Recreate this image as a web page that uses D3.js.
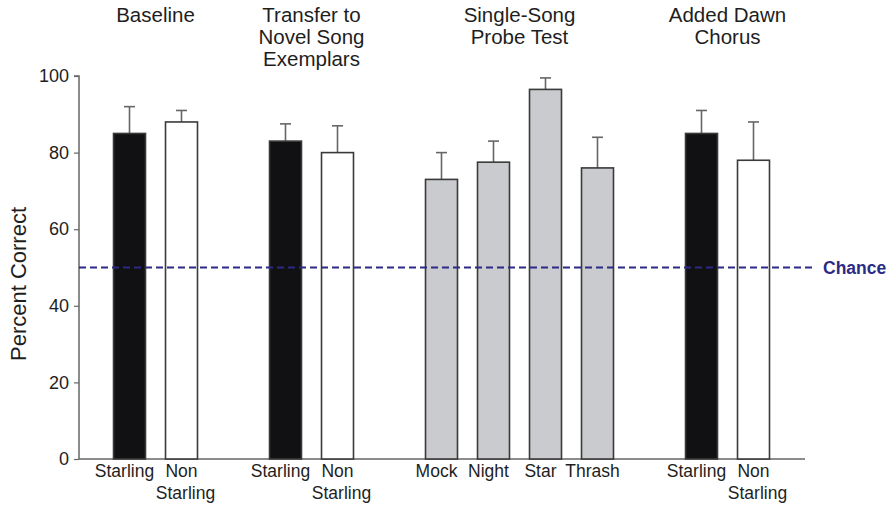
<!DOCTYPE html>
<html>
<head>
<meta charset="utf-8">
<script src="https://cdn.jsdelivr.net/npm/d3@7"></script>
<style>
  html, body { margin: 0; padding: 0; background: #fff; }
  svg { display: block; font-family: "Liberation Sans", Arial, sans-serif; }
</style>
</head>
<body>
<svg id="chart" width="893" height="507"></svg>
<script>
// Experimental conditions (panels) and their titles
const groups = ["baseline", "transfer", "probe", "dawn"];
const groupTitles = [
  ["Baseline"],
  ["Transfer to", "Novel Song", "Exemplars"],
  ["Single-Song", "Probe Test"],
  ["Added Dawn", "Chorus"]
];

// One entry per bar
const barGroup  = ["baseline", "baseline", "transfer", "transfer", "probe", "probe", "probe", "probe", "dawn", "dawn"];
const barLabels = [
  ["Starling"], ["Non", "Starling"],
  ["Starling"], ["Non", "Starling"],
  ["Mock"], ["Night"], ["Star"], ["Thrash"],
  ["Starling"], ["Non", "Starling"]
];
const barKind   = ["starling", "non", "starling", "non", "probe", "probe", "probe", "probe", "starling", "non"];
const meanPct   = [85, 88, 83, 80, 73, 77.5, 96.5, 76, 85, 78];
const errTopPct = [92, 91, 87.5, 87, 80, 83, 99.5, 84, 91, 88];

const yTicks = [0, 20, 40, 60, 80, 100];
const chanceLevel = 50;

const fills = { starling: "#111114", non: "#ffffff", probe: "#c9cbce" };

const svg = d3.select("#chart");
const margin = { left: 79 };

// Slots: each group's bars followed by one empty spacer slot
const slots = [];
groups.forEach((g, gi) => {
  barGroup.forEach((bg, i) => { if (bg === g) slots.push("b" + i); });
  if (gi < groups.length - 1) slots.push("gap" + gi);
});

const x = d3.scaleBand()
  .domain(slots)
  .range([103.5, 779.5])
  .paddingInner(0.385)
  .paddingOuter(0.1925);

const y = d3.scaleLinear().domain([0, 100]).range([459, 76]);

const axisColor = "#666";
const textColor = "#1e1e1e";

// Y axis
const yAxis = svg.append("g")
  .attr("transform", `translate(${margin.left},0)`)
  .call(d3.axisLeft(y).tickValues(yTicks).tickSize(5).tickPadding(5));
yAxis.select(".domain").attr("stroke", axisColor).attr("stroke-width", 1.5)
  .attr("d", `M-5,${y(100)}H0V${y(0)}`);
yAxis.selectAll(".tick line").attr("stroke", axisColor).attr("stroke-width", 1.2);
yAxis.selectAll(".tick text")
  .attr("font-size", 18).attr("fill", textColor)
  .attr("font-family", "Liberation Sans, Arial, sans-serif");

// X axis line
svg.append("line")
  .attr("x1", margin.left).attr("x2", 805)
  .attr("y1", y(0)).attr("y2", y(0))
  .attr("stroke", axisColor).attr("stroke-width", 1.5);

// Y axis title
svg.append("text")
  .attr("transform", `translate(26,284) rotate(-90)`)
  .attr("text-anchor", "middle")
  .attr("font-size", 22).attr("fill", textColor)
  .text("Percent Correct");

// Error bars (upper only)
const errColor = "#666";
meanPct.forEach((m, i) => {
  const cx = x("b" + i) + x.bandwidth() / 2;
  svg.append("line")
    .attr("x1", cx).attr("x2", cx)
    .attr("y1", y(m)).attr("y2", y(errTopPct[i]))
    .attr("stroke", errColor).attr("stroke-width", 1.6);
  svg.append("line")
    .attr("x1", cx - 5.5).attr("x2", cx + 5.5)
    .attr("y1", y(errTopPct[i])).attr("y2", y(errTopPct[i]))
    .attr("stroke", errColor).attr("stroke-width", 1.6);
});

// Bars
svg.append("g").selectAll("rect")
  .data(meanPct)
  .join("rect")
  .attr("x", (d, i) => x("b" + i))
  .attr("width", x.bandwidth())
  .attr("y", d => y(d))
  .attr("height", d => y(0) - y(d))
  .attr("fill", (d, i) => fills[barKind[i]])
  .attr("stroke", "#3a3a3a")
  .attr("stroke-width", 1.6);

// Chance line
svg.append("line")
  .attr("x1", margin.left).attr("x2", 815)
  .attr("y1", y(chanceLevel)).attr("y2", y(chanceLevel))
  .attr("stroke", "#2b2b86").attr("stroke-width", 2)
  .attr("stroke-dasharray", "7,4");
svg.append("text")
  .attr("x", 823).attr("y", y(chanceLevel) + 6)
  .attr("font-size", 17.5).attr("font-weight", "bold")
  .attr("fill", "#2b2b86")
  .text("Chance");

// Bar labels: single-line labels sit slightly left of the bar centre,
// the second line of two-line labels slightly right
barLabels.forEach((lines, i) => {
  const cx = x("b" + i) + x.bandwidth() / 2;
  const t = svg.append("text")
    .attr("text-anchor", "middle")
    .attr("font-size", 17.5).attr("fill", textColor);
  lines.forEach((ln, k) => {
    const dx = lines.length === 1 ? -5 : (k === 1 ? 4 : 0);
    t.append("tspan")
      .attr("x", cx + dx)
      .attr("y", 477 + k * 22)
      .text(ln);
  });
});

// Group titles
groups.forEach((g, gi) => {
  const idx = barGroup.map((bg, i) => bg === g ? i : -1).filter(i => i >= 0);
  const x0 = x("b" + idx[0]);
  const x1 = x("b" + idx[idx.length - 1]) + x.bandwidth();
  const cx = (x0 + x1) / 2;
  const t = svg.append("text")
    .attr("text-anchor", "middle")
    .attr("font-size", 20.5).attr("fill", textColor);
  groupTitles[gi].forEach((ln, k) => {
    t.append("tspan").attr("x", cx).attr("y", 22 + k * 22).text(ln);
  });
});
</script>
</body>
</html>
